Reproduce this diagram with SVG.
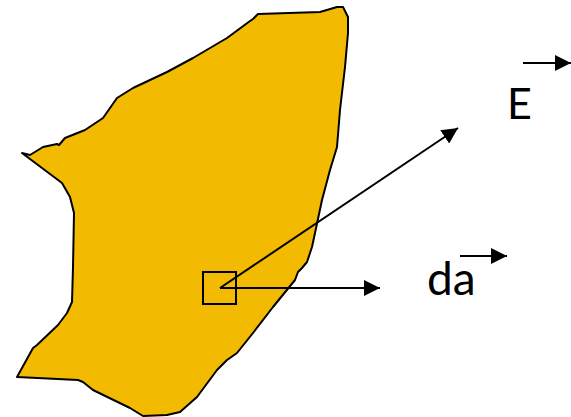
<svg xmlns="http://www.w3.org/2000/svg" width="571" height="417" viewBox="0 0 571 417">
<style>
.blob{fill:#F2BA00;stroke:#000;stroke-width:2;stroke-linejoin:round}
.ln{stroke:#000;stroke-width:2;fill:none}
.lbl{font-family:"Lato","Open Sans",sans-serif;fill:#000}
</style>
<defs>
<marker id="ah" markerUnits="userSpaceOnUse" markerWidth="17" markerHeight="16" refX="16" refY="8" orient="auto">
<path d="M0,0 L16,8 L0,16 Z" fill="#000"/>
</marker>
</defs>
<g id="surface">
<path class="blob" d="M22,153 L30,155 L43,147 L57,144 L59,145 L65,138 L85,130 L103,118 L117,98 L133,88 L167,72 L193,58 L227,38 L250,21 L253,19 L258,14 L320,12 L337,7 L343,7 L348,17 L348,33 L345,67 L340,110 L337,147 L330,170 L322,200 L315,233 L312,247 L307,262 L302,268 L298,272 L295,280 L273,307 L253,333 L237,353 L227,360 L217,370 L197,397 L180,412 L167,415 L143,416 L130,408 L93,390 L83,382 L78,380 L17,377 L33,348 L37,345 L58,325 L67,313 L72,302 L73,267 L74,213 L70,197 L62,183 Z"/>
</g>
<g id="element">
<rect class="ln" x="203" y="272" width="33" height="32"/>
</g>
<g id="connectors">
<line class="ln" x1="220" y1="288" x2="458" y2="128" marker-end="url(#ah)"/>
<line class="ln" x1="220" y1="288" x2="380" y2="288" marker-end="url(#ah)"/>
<line class="ln" x1="523" y1="63" x2="571" y2="63" marker-end="url(#ah)"/>
<line class="ln" x1="460" y1="256" x2="507" y2="256" marker-end="url(#ah)"/>
</g>
<g id="label-E">
<text class="lbl" x="507" y="119" font-size="43">E</text>
</g>
<g id="label-da">
<text class="lbl" x="427" y="295" font-size="46">da</text>
</g>
</svg>
